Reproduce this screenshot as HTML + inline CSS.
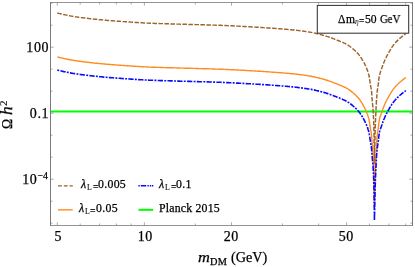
<!DOCTYPE html><html><head><meta charset="utf-8"><title>plot</title><style>
html,body{margin:0;padding:0;background:#fff}
#w{position:relative;width:415px;height:267px;overflow:hidden;background:#fff;font-family:"Liberation Serif",serif;color:#000;-webkit-text-stroke:0.25px #000}
.t{position:absolute;white-space:nowrap;line-height:1;will-change:transform}
.yl{font-size:14px;text-align:right;width:49.3px;left:0;letter-spacing:0.7px}
.xl{font-size:14px;text-align:center;width:40px;letter-spacing:0.65px;text-indent:0.65px}
.lg{font-size:11.8px}
sub{font-size:0.7em;vertical-align:baseline;position:relative;top:0.22em;line-height:0}
sup{font-size:0.72em;vertical-align:baseline;position:relative;top:-0.5em;line-height:0}
i{font-style:italic}
</style></head><body><div id="w"><svg width="415" height="267" viewBox="0 0 415 267" style="position:absolute;left:0;top:0"><defs><clipPath id="c"><rect x="50.5" y="2.5" width="362.0" height="223.0"/></clipPath></defs><g clip-path="url(#c)" fill="none" stroke-linejoin="round"><line x1="50.5" x2="412.5" y1="111.55" y2="111.55" stroke="#00ff00" stroke-width="2.1"/><path d="M57.3,13.0 L58.1,13.2 L58.9,13.4 L59.8,13.6 L60.6,13.8 L61.4,14.0 L62.2,14.2 L63.0,14.4 L63.9,14.6 L64.7,14.7 L65.5,14.9 L66.3,15.1 L67.2,15.3 L68.0,15.4 L68.8,15.6 L69.6,15.8 L70.5,15.9 L71.3,16.1 L72.1,16.2 L72.9,16.4 L73.8,16.5 L74.6,16.6 L75.4,16.8 L76.3,16.9 L77.1,17.0 L77.9,17.1 L78.8,17.3 L79.6,17.4 L80.4,17.5 L81.3,17.6 L82.1,17.7 L82.9,17.8 L83.8,17.9 L84.6,18.0 L85.4,18.1 L86.3,18.2 L87.1,18.3 L88.0,18.4 L88.8,18.5 L89.6,18.6 L90.5,18.7 L91.3,18.8 L92.1,18.9 L93.0,19.0 L93.8,19.1 L94.7,19.2 L95.5,19.3 L96.3,19.3 L97.2,19.4 L98.0,19.5 L98.8,19.6 L99.7,19.7 L100.5,19.7 L101.4,19.8 L102.2,19.9 L103.0,20.0 L103.9,20.1 L104.7,20.1 L105.6,20.2 L106.4,20.3 L107.2,20.4 L108.1,20.4 L108.9,20.5 L109.7,20.6 L110.6,20.6 L111.4,20.7 L112.3,20.8 L113.1,20.8 L113.9,20.9 L114.8,21.0 L115.6,21.0 L116.5,21.1 L117.3,21.2 L118.1,21.2 L119.0,21.3 L119.8,21.3 L120.7,21.4 L121.5,21.5 L122.3,21.5 L123.2,21.6 L124.0,21.6 L124.9,21.7 L125.7,21.7 L126.5,21.8 L127.4,21.9 L128.2,21.9 L129.1,22.0 L129.9,22.0 L130.7,22.1 L131.6,22.1 L132.4,22.2 L133.3,22.3 L134.1,22.3 L134.9,22.4 L135.8,22.4 L136.6,22.5 L137.5,22.5 L138.3,22.6 L139.1,22.6 L140.0,22.7 L140.8,22.7 L141.7,22.8 L142.5,22.8 L143.3,22.9 L144.2,22.9 L145.0,23.0 L145.9,23.0 L146.7,23.1 L147.6,23.1 L148.4,23.1 L149.2,23.2 L150.1,23.2 L150.9,23.2 L151.8,23.3 L152.6,23.3 L153.4,23.3 L154.3,23.4 L155.1,23.4 L156.0,23.4 L156.8,23.5 L157.6,23.5 L158.5,23.5 L159.3,23.5 L160.2,23.6 L161.0,23.6 L161.9,23.6 L162.7,23.6 L163.5,23.7 L164.4,23.7 L165.2,23.7 L166.1,23.7 L166.9,23.8 L167.7,23.8 L168.6,23.8 L169.4,23.8 L170.3,23.9 L171.1,23.9 L172.0,23.9 L172.8,23.9 L173.6,24.0 L174.5,24.0 L175.3,24.0 L176.2,24.0 L177.0,24.1 L177.8,24.1 L178.7,24.1 L179.5,24.1 L180.4,24.2 L181.2,24.2 L182.1,24.2 L182.9,24.2 L183.7,24.2 L184.6,24.3 L185.4,24.3 L186.3,24.3 L187.1,24.3 L188.0,24.4 L188.8,24.4 L189.6,24.4 L190.5,24.4 L191.3,24.5 L192.2,24.5 L193.0,24.5 L193.8,24.5 L194.7,24.5 L195.5,24.6 L196.4,24.6 L197.2,24.6 L198.1,24.6 L198.9,24.7 L199.7,24.7 L200.6,24.7 L201.4,24.7 L202.3,24.8 L203.1,24.8 L203.9,24.8 L204.8,24.8 L205.6,24.9 L206.5,24.9 L207.3,24.9 L208.2,24.9 L209.0,25.0 L209.8,25.0 L210.7,25.0 L211.5,25.0 L212.4,25.1 L213.2,25.1 L214.0,25.1 L214.9,25.1 L215.7,25.2 L216.6,25.2 L217.4,25.2 L218.3,25.3 L219.1,25.3 L219.9,25.3 L220.8,25.3 L221.6,25.4 L222.5,25.4 L223.3,25.4 L224.1,25.5 L225.0,25.5 L225.8,25.5 L226.7,25.6 L227.5,25.6 L228.3,25.6 L229.2,25.7 L230.0,25.7 L230.9,25.8 L231.7,25.8 L232.6,25.8 L233.4,25.9 L234.2,25.9 L235.1,26.0 L235.9,26.0 L236.8,26.1 L237.6,26.1 L238.4,26.1 L239.3,26.2 L240.1,26.2 L241.0,26.3 L241.8,26.3 L242.6,26.4 L243.5,26.4 L244.3,26.5 L245.2,26.5 L246.0,26.6 L246.8,26.6 L247.7,26.7 L248.5,26.7 L249.4,26.8 L250.2,26.8 L251.0,26.9 L251.9,26.9 L252.7,27.0 L253.6,27.0 L254.4,27.1 L255.3,27.1 L256.1,27.2 L256.9,27.2 L257.8,27.3 L258.6,27.3 L259.5,27.4 L260.3,27.4 L261.1,27.5 L262.0,27.5 L262.8,27.6 L263.7,27.6 L264.5,27.7 L265.3,27.7 L266.2,27.8 L267.0,27.9 L267.9,27.9 L268.7,28.0 L269.5,28.0 L270.4,28.1 L271.2,28.2 L272.1,28.2 L272.9,28.3 L273.7,28.3 L274.6,28.4 L275.4,28.5 L276.3,28.5 L277.1,28.6 L277.9,28.6 L278.8,28.7 L279.6,28.8 L280.5,28.8 L281.3,28.9 L282.1,29.0 L283.0,29.0 L283.8,29.1 L284.7,29.2 L285.5,29.2 L286.3,29.3 L287.2,29.4 L288.0,29.5 L288.8,29.5 L289.7,29.6 L290.5,29.7 L291.4,29.8 L292.2,29.9 L293.0,29.9 L293.9,30.0 L294.7,30.1 L295.5,30.2 L296.4,30.3 L297.2,30.4 L298.1,30.5 L298.9,30.6 L299.7,30.7 L300.6,30.8 L301.4,30.9 L302.2,31.0 L303.1,31.1 L303.9,31.2 L304.7,31.4 L305.6,31.5 L306.4,31.6 L307.2,31.7 L308.1,31.9 L308.9,32.0 L309.7,32.1 L310.6,32.3 L311.4,32.4 L312.2,32.6 L313.0,32.8 L313.9,32.9 L314.7,33.1 L315.5,33.3 L316.3,33.5 L317.2,33.7 L318.0,33.9 L318.8,34.1 L319.6,34.3 L320.4,34.5 L321.2,34.7 L322.1,34.9 L322.9,35.2 L323.7,35.4 L324.5,35.6 L325.3,35.8 L326.1,36.1 L326.9,36.4 L327.7,36.6 L328.5,36.9 L329.3,37.2 L330.1,37.4 L330.9,37.7 L331.7,38.0 L332.5,38.3 L333.2,38.6 L334.0,38.9 L334.8,39.2 L335.6,39.5 L336.4,39.8 L337.2,40.2 L338.0,40.5 L338.7,40.8 L339.5,41.1 L340.3,41.4 L341.1,41.7 L341.9,42.0 L342.7,42.4 L343.4,42.7 L344.2,43.1 L344.9,43.4 L345.7,43.8 L346.4,44.2 L347.2,44.6 L347.9,45.1 L348.6,45.5 L349.3,46.0 L350.0,46.5 L350.6,47.0 L351.3,47.5 L352.0,48.0 L352.6,48.6 L353.3,49.1 L353.9,49.7 L354.5,50.2 L355.2,50.8 L355.8,51.4 L356.4,52.0 L357.0,52.6 L357.5,53.2 L358.1,53.8 L358.6,54.4 L359.2,55.1 L359.7,55.8 L360.2,56.5 L360.6,57.2 L361.1,57.8 L361.6,58.6 L362.0,59.3 L362.5,60.0 L362.9,60.7 L363.3,61.4 L363.7,62.2 L364.1,62.9 L364.5,63.7 L364.9,64.4 L365.2,65.2 L365.6,66.0 L365.9,66.7 L366.3,67.5 L366.6,68.3 L366.9,69.1 L367.2,69.9 L367.5,70.6 L367.8,71.4 L368.0,72.2 L368.3,73.1 L368.5,73.9 L368.8,74.7 L369.0,75.5 L369.1,76.3 L369.3,77.1 L369.4,77.9 L369.6,78.8 L369.7,79.6 L369.8,80.4 L369.9,81.3 L370.0,82.1 L370.2,83.0 L370.3,83.8 L370.4,84.6 L370.5,85.5 L370.7,86.3 L370.9,87.1 L371.0,87.9 L371.2,88.8 L371.3,89.6 L371.4,90.4 L371.5,91.3 L371.6,92.1 L371.7,92.9 L371.7,93.8 L371.8,94.6 L371.9,95.5 L371.9,96.3 L372.0,97.1 L372.0,98.0 L372.1,98.8 L372.2,99.7 L372.2,100.5 L372.3,101.3 L372.4,102.2 L372.5,103.0 L372.5,103.9 L372.6,104.7 L372.7,105.5 L372.8,106.4 L372.9,107.2 L372.9,108.1 L373.0,108.9 L373.1,109.7 L373.1,110.6 L373.2,111.4 L373.2,112.3 L373.3,113.1 L373.3,113.9 L373.4,114.8 L373.4,115.6 L373.4,116.5 L373.5,117.3 L373.5,118.1 L373.6,119.0 L373.6,119.8 L373.6,120.7 L373.7,121.5 L373.7,122.3 L373.7,123.2 L373.7,124.0 L373.8,124.9 L373.8,125.7 L373.8,126.6 L373.8,127.4 L373.9,128.2 L373.9,129.1 L373.9,129.9 L373.9,130.8 L373.9,131.6 L374.0,132.4 L374.0,133.3 L374.0,134.1 L374.0,135.0 L374.0,135.8 L374.0,136.7 L374.1,137.5 L374.1,138.3 L374.1,139.2 L374.1,140.0 L374.1,140.9 L374.1,141.7 L374.1,142.6 L374.2,143.4 L374.2,144.2 L374.2,145.1 L374.2,145.9 L374.2,146.8 L374.2,147.6 L374.2,148.4 L374.2,149.3 L374.3,150.1 L374.3,151.0 L374.3,151.8 L374.3,152.7 L374.3,153.5 L374.3,154.3 L374.3,155.2 L374.3,156.0 L374.3,156.9 L374.3,157.7 L374.4,158.5 L374.4,159.4 L374.4,160.2 L374.4,161.1 L374.4,161.9 L374.4,162.8 L374.4,163.6 L374.4,163.1 L374.4,162.7 L374.4,162.2 L374.4,161.7 L374.5,161.3 L374.5,160.8 L374.5,160.3 L374.5,159.9 L374.5,159.4 L374.5,159.0 L374.5,158.5 L374.5,158.0 L374.5,157.6 L374.5,157.1 L374.6,156.6 L374.6,156.2 L374.6,155.7 L374.6,155.2 L374.6,154.8 L374.6,154.3 L374.6,153.8 L374.6,153.4 L374.6,152.9 L374.7,152.4 L374.7,152.0 L374.7,151.5 L374.7,151.1 L374.7,150.6 L374.7,150.1 L374.7,149.7 L374.7,149.2 L374.7,148.7 L374.7,148.3 L374.8,147.8 L374.8,147.3 L374.8,146.9 L374.8,146.4 L374.8,145.9 L374.8,145.5 L374.8,145.0 L374.8,144.6 L374.8,144.1 L374.9,143.6 L374.9,143.2 L374.9,142.7 L374.9,142.2 L374.9,141.8 L374.9,141.3 L374.9,140.8 L374.9,140.4 L374.9,139.9 L375.0,139.4 L375.0,139.0 L375.0,138.5 L375.0,138.0 L375.0,137.6 L375.0,137.1 L375.0,136.7 L375.0,136.2 L375.0,135.7 L375.1,135.3 L375.1,134.8 L375.1,134.3 L375.1,133.9 L375.1,133.4 L375.1,132.9 L375.1,132.5 L375.1,132.0 L375.1,131.5 L375.2,131.1 L375.2,130.6 L375.2,130.2 L375.2,129.7 L375.2,129.2 L375.2,128.8 L375.2,128.3 L375.2,127.8 L375.3,127.4 L375.3,126.9 L375.3,126.4 L375.3,126.0 L375.3,125.5 L375.3,125.0 L375.4,124.6 L375.4,124.1 L375.4,123.6 L375.4,123.2 L375.4,122.7 L375.4,122.3 L375.5,121.8 L375.5,121.3 L375.5,120.9 L375.5,120.4 L375.5,119.9 L375.5,119.5 L375.6,119.0 L375.6,118.5 L375.6,118.1 L375.6,117.6 L375.6,117.1 L375.7,116.7 L375.7,116.2 L375.7,115.8 L375.7,115.3 L375.8,114.8 L375.8,114.4 L375.8,113.9 L375.8,113.4 L375.8,113.0 L375.9,112.5 L375.9,112.0 L375.9,111.6 L375.9,111.1 L375.9,110.6 L376.0,110.2 L376.0,109.7 L376.0,109.3 L376.0,108.8 L376.1,108.3 L376.1,107.9 L376.1,107.4 L376.1,106.9 L376.1,106.5 L376.2,106.0 L376.2,105.5 L376.2,105.1 L376.2,104.6 L376.3,104.1 L376.3,103.7 L376.3,103.2 L376.3,102.8 L376.4,102.3 L376.4,101.8 L376.4,101.4 L376.4,100.9 L376.5,100.4 L376.5,100.0 L376.5,99.5 L376.6,99.0 L376.6,98.6 L376.6,98.1 L376.7,97.7 L376.7,97.2 L376.8,96.7 L376.8,96.3 L376.8,95.8 L376.9,95.3 L376.9,94.9 L377.0,94.4 L377.0,94.0 L377.1,93.5 L377.1,93.0 L377.1,92.6 L377.2,92.1 L377.2,91.6 L377.3,91.2 L377.3,90.7 L377.4,90.3 L377.5,89.8 L377.5,89.3 L377.6,88.9 L377.6,88.4 L377.7,88.0 L377.8,87.5 L377.9,87.0 L377.9,86.6 L378.0,86.1 L378.1,85.7 L378.1,85.2 L378.2,84.7 L378.2,84.3 L378.3,83.8 L378.4,83.4 L378.4,82.9 L378.5,82.4 L378.5,82.0 L378.6,81.5 L378.6,81.0 L378.7,80.6 L378.7,80.1 L378.8,79.6 L378.8,79.2 L378.9,78.7 L379.0,78.3 L379.0,77.8 L379.1,77.3 L379.2,76.9 L379.2,76.4 L379.3,76.0 L379.4,75.5 L379.5,75.1 L379.6,74.6 L379.7,74.2 L379.9,73.7 L380.0,73.3 L380.1,72.9 L380.3,72.4 L380.4,72.0 L380.6,71.5 L380.7,71.1 L380.9,70.6 L381.1,70.2 L381.2,69.8 L381.4,69.3 L381.5,68.9 L381.7,68.4 L381.9,68.0 L382.0,67.6 L382.2,67.1 L382.3,66.7 L382.5,66.3 L382.6,65.8 L382.8,65.4 L382.9,64.9 L383.1,64.5 L383.3,64.1 L383.4,63.6 L383.6,63.2 L383.7,62.8 L383.9,62.3 L384.1,61.9 L384.3,61.5 L384.5,61.0 L384.6,60.6 L384.8,60.2 L385.0,59.8 L385.2,59.4 L385.4,58.9 L385.6,58.5 L385.8,58.1 L386.0,57.7 L386.2,57.3 L386.4,56.8 L386.7,56.4 L386.9,56.0 L387.1,55.6 L387.3,55.2 L387.5,54.8 L387.8,54.4 L388.0,54.0 L388.2,53.6 L388.4,53.2 L388.7,52.8 L388.9,52.3 L389.1,51.9 L389.3,51.5 L389.6,51.1 L389.8,50.7 L390.0,50.3 L390.3,49.9 L390.5,49.5 L390.8,49.1 L391.0,48.7 L391.2,48.3 L391.5,47.9 L391.7,47.5 L392.0,47.1 L392.3,46.8 L392.5,46.4 L392.8,46.0 L393.1,45.6 L393.3,45.3 L393.6,44.9 L393.9,44.5 L394.2,44.2 L394.5,43.8 L394.8,43.5 L395.1,43.1 L395.4,42.8 L395.7,42.4 L396.0,42.1 L396.3,41.7 L396.7,41.4 L397.0,41.1 L397.3,40.7 L397.7,40.4 L398.0,40.1 L398.3,39.8 L398.7,39.4 L399.0,39.1 L399.4,38.8 L399.7,38.5 L400.0,38.2 L400.4,37.9 L400.7,37.6 L401.1,37.3 L401.4,37.0 L401.8,36.7 L402.2,36.4 L402.5,36.1 L402.9,35.8 L403.3,35.5 L403.6,35.2 L404.0,35.0 L404.4,34.7 L404.8,34.4 L405.1,34.1 L405.5,33.9 L405.9,33.6" stroke="#9c632a" stroke-width="1.45" stroke-dasharray="4.5,1.5"/><path d="M57.3,56.9 L58.1,57.1 L58.9,57.3 L59.8,57.5 L60.6,57.7 L61.4,57.9 L62.2,58.1 L63.0,58.3 L63.9,58.5 L64.7,58.6 L65.5,58.8 L66.3,59.0 L67.2,59.2 L68.0,59.3 L68.8,59.5 L69.6,59.7 L70.5,59.8 L71.3,60.0 L72.1,60.1 L72.9,60.3 L73.8,60.4 L74.6,60.5 L75.4,60.7 L76.3,60.8 L77.1,60.9 L77.9,61.0 L78.8,61.2 L79.6,61.3 L80.4,61.4 L81.3,61.5 L82.1,61.6 L82.9,61.7 L83.8,61.8 L84.6,61.9 L85.4,62.0 L86.3,62.1 L87.1,62.2 L88.0,62.3 L88.8,62.4 L89.6,62.5 L90.5,62.6 L91.3,62.7 L92.1,62.8 L93.0,62.9 L93.8,63.0 L94.7,63.1 L95.5,63.2 L96.3,63.2 L97.2,63.3 L98.0,63.4 L98.8,63.5 L99.7,63.6 L100.5,63.6 L101.4,63.7 L102.2,63.8 L103.0,63.9 L103.9,64.0 L104.7,64.0 L105.6,64.1 L106.4,64.2 L107.2,64.3 L108.1,64.3 L108.9,64.4 L109.7,64.5 L110.6,64.5 L111.4,64.6 L112.3,64.7 L113.1,64.7 L113.9,64.8 L114.8,64.9 L115.6,64.9 L116.5,65.0 L117.3,65.1 L118.1,65.1 L119.0,65.2 L119.8,65.2 L120.7,65.3 L121.5,65.4 L122.3,65.4 L123.2,65.5 L124.0,65.5 L124.9,65.6 L125.7,65.6 L126.5,65.7 L127.4,65.8 L128.2,65.8 L129.1,65.9 L129.9,65.9 L130.7,66.0 L131.6,66.0 L132.4,66.1 L133.3,66.2 L134.1,66.2 L134.9,66.3 L135.8,66.3 L136.6,66.4 L137.5,66.4 L138.3,66.5 L139.1,66.5 L140.0,66.6 L140.8,66.6 L141.7,66.7 L142.5,66.7 L143.3,66.8 L144.2,66.8 L145.0,66.9 L145.9,66.9 L146.7,67.0 L147.6,67.0 L148.4,67.0 L149.2,67.1 L150.1,67.1 L150.9,67.1 L151.8,67.2 L152.6,67.2 L153.4,67.2 L154.3,67.3 L155.1,67.3 L156.0,67.3 L156.8,67.4 L157.6,67.4 L158.5,67.4 L159.3,67.4 L160.2,67.5 L161.0,67.5 L161.9,67.5 L162.7,67.5 L163.5,67.6 L164.4,67.6 L165.2,67.6 L166.1,67.6 L166.9,67.7 L167.7,67.7 L168.6,67.7 L169.4,67.7 L170.3,67.8 L171.1,67.8 L172.0,67.8 L172.8,67.8 L173.6,67.9 L174.5,67.9 L175.3,67.9 L176.2,67.9 L177.0,68.0 L177.8,68.0 L178.7,68.0 L179.5,68.0 L180.4,68.1 L181.2,68.1 L182.1,68.1 L182.9,68.1 L183.7,68.1 L184.6,68.2 L185.4,68.2 L186.3,68.2 L187.1,68.2 L188.0,68.3 L188.8,68.3 L189.6,68.3 L190.5,68.3 L191.3,68.4 L192.2,68.4 L193.0,68.4 L193.8,68.4 L194.7,68.4 L195.5,68.5 L196.4,68.5 L197.2,68.5 L198.1,68.5 L198.9,68.6 L199.7,68.6 L200.6,68.6 L201.4,68.6 L202.3,68.7 L203.1,68.7 L203.9,68.7 L204.8,68.7 L205.6,68.8 L206.5,68.8 L207.3,68.8 L208.2,68.8 L209.0,68.9 L209.8,68.9 L210.7,68.9 L211.5,68.9 L212.4,69.0 L213.2,69.0 L214.0,69.0 L214.9,69.0 L215.7,69.1 L216.6,69.1 L217.4,69.1 L218.3,69.2 L219.1,69.2 L219.9,69.2 L220.8,69.2 L221.6,69.3 L222.5,69.3 L223.3,69.3 L224.1,69.4 L225.0,69.4 L225.8,69.4 L226.7,69.5 L227.5,69.5 L228.3,69.5 L229.2,69.6 L230.0,69.6 L230.9,69.7 L231.7,69.7 L232.6,69.7 L233.4,69.8 L234.2,69.8 L235.1,69.9 L235.9,69.9 L236.8,70.0 L237.6,70.0 L238.4,70.0 L239.3,70.1 L240.1,70.1 L241.0,70.2 L241.8,70.2 L242.6,70.3 L243.5,70.3 L244.3,70.4 L245.2,70.4 L246.0,70.5 L246.8,70.5 L247.7,70.6 L248.5,70.6 L249.4,70.7 L250.2,70.7 L251.0,70.8 L251.9,70.8 L252.7,70.9 L253.6,70.9 L254.4,71.0 L255.3,71.0 L256.1,71.1 L256.9,71.1 L257.8,71.2 L258.6,71.2 L259.5,71.3 L260.3,71.3 L261.1,71.4 L262.0,71.4 L262.8,71.5 L263.7,71.5 L264.5,71.6 L265.3,71.6 L266.2,71.7 L267.0,71.8 L267.9,71.8 L268.7,71.9 L269.5,71.9 L270.4,72.0 L271.2,72.1 L272.1,72.1 L272.9,72.2 L273.7,72.2 L274.6,72.3 L275.4,72.4 L276.3,72.4 L277.1,72.5 L277.9,72.5 L278.8,72.6 L279.6,72.7 L280.5,72.7 L281.3,72.8 L282.1,72.9 L283.0,72.9 L283.8,73.0 L284.7,73.1 L285.5,73.1 L286.3,73.2 L287.2,73.3 L288.0,73.4 L288.8,73.4 L289.7,73.5 L290.5,73.6 L291.4,73.7 L292.2,73.8 L293.0,73.8 L293.9,73.9 L294.7,74.0 L295.5,74.1 L296.4,74.2 L297.2,74.3 L298.1,74.4 L298.9,74.5 L299.7,74.6 L300.6,74.7 L301.4,74.8 L302.2,74.9 L303.1,75.0 L303.9,75.1 L304.7,75.3 L305.6,75.4 L306.4,75.5 L307.2,75.6 L308.1,75.8 L308.9,75.9 L309.7,76.0 L310.6,76.2 L311.4,76.3 L312.2,76.5 L313.0,76.7 L313.9,76.8 L314.7,77.0 L315.5,77.2 L316.3,77.4 L317.2,77.6 L318.0,77.8 L318.8,78.0 L319.6,78.2 L320.4,78.4 L321.2,78.6 L322.1,78.8 L322.9,79.1 L323.7,79.3 L324.5,79.5 L325.3,79.7 L326.1,80.0 L326.9,80.3 L327.7,80.5 L328.5,80.8 L329.3,81.1 L330.1,81.3 L330.9,81.6 L331.7,81.9 L332.5,82.2 L333.2,82.5 L334.0,82.8 L334.8,83.1 L335.6,83.4 L336.4,83.7 L337.2,84.1 L338.0,84.4 L338.7,84.7 L339.5,85.0 L340.3,85.3 L341.1,85.6 L341.9,85.9 L342.7,86.3 L343.4,86.6 L344.2,87.0 L344.9,87.3 L345.7,87.7 L346.4,88.1 L347.2,88.5 L347.9,89.0 L348.6,89.4 L349.3,89.9 L350.0,90.4 L350.6,90.9 L351.3,91.4 L352.0,91.9 L352.6,92.5 L353.3,93.0 L353.9,93.6 L354.5,94.1 L355.2,94.7 L355.8,95.3 L356.4,95.9 L357.0,96.5 L357.5,97.1 L358.1,97.7 L358.6,98.3 L359.2,99.0 L359.7,99.7 L360.2,100.4 L360.6,101.1 L361.1,101.7 L361.6,102.5 L362.0,103.2 L362.5,103.9 L362.9,104.6 L363.3,105.3 L363.7,106.1 L364.1,106.8 L364.5,107.6 L364.9,108.3 L365.2,109.1 L365.6,109.9 L365.9,110.6 L366.3,111.4 L366.6,112.2 L366.9,113.0 L367.2,113.8 L367.5,114.5 L367.8,115.3 L368.0,116.1 L368.3,117.0 L368.5,117.8 L368.8,118.6 L369.0,119.4 L369.1,120.2 L369.3,121.0 L369.4,121.8 L369.6,122.7 L369.7,123.5 L369.8,124.3 L369.9,125.2 L370.0,126.0 L370.2,126.9 L370.3,127.7 L370.4,128.5 L370.5,129.4 L370.7,130.2 L370.9,131.0 L371.0,131.8 L371.2,132.7 L371.3,133.5 L371.4,134.3 L371.5,135.2 L371.6,136.0 L371.7,136.8 L371.7,137.7 L371.8,138.5 L371.9,139.4 L371.9,140.2 L372.0,141.0 L372.0,141.9 L372.1,142.7 L372.2,143.6 L372.2,144.4 L372.3,145.2 L372.4,146.1 L372.5,146.9 L372.5,147.8 L372.6,148.6 L372.7,149.4 L372.8,150.3 L372.9,151.1 L372.9,152.0 L373.0,152.8 L373.1,153.6 L373.1,154.5 L373.2,155.3 L373.2,156.2 L373.3,157.0 L373.3,157.8 L373.4,158.7 L373.4,159.5 L373.4,160.4 L373.5,161.2 L373.5,162.0 L373.6,162.9 L373.6,163.7 L373.6,164.6 L373.7,165.4 L373.7,166.2 L373.7,167.1 L373.7,167.9 L373.8,168.8 L373.8,169.6 L373.8,170.5 L373.8,171.3 L373.9,172.1 L373.9,173.0 L373.9,173.8 L373.9,174.7 L373.9,175.5 L374.0,176.3 L374.0,177.2 L374.0,178.0 L374.0,178.9 L374.0,179.7 L374.0,180.6 L374.1,181.4 L374.1,182.2 L374.1,183.1 L374.1,183.9 L374.1,184.8 L374.1,185.6 L374.1,186.5 L374.2,187.3 L374.2,188.1 L374.2,189.0 L374.2,189.8 L374.2,190.7 L374.2,191.5 L374.2,192.3 L374.2,193.2 L374.3,194.0 L374.3,194.9 L374.3,195.7 L374.3,196.6 L374.3,197.4 L374.3,198.2 L374.3,199.1 L374.3,199.9 L374.3,200.8 L374.3,201.6 L374.4,202.4 L374.4,203.3 L374.4,204.1 L374.4,205.0 L374.4,205.8 L374.4,206.7 L374.4,207.5 L374.4,207.0 L374.4,206.6 L374.4,206.1 L374.4,205.6 L374.5,205.2 L374.5,204.7 L374.5,204.2 L374.5,203.8 L374.5,203.3 L374.5,202.9 L374.5,202.4 L374.5,201.9 L374.5,201.5 L374.5,201.0 L374.6,200.5 L374.6,200.1 L374.6,199.6 L374.6,199.1 L374.6,198.7 L374.6,198.2 L374.6,197.7 L374.6,197.3 L374.6,196.8 L374.7,196.3 L374.7,195.9 L374.7,195.4 L374.7,195.0 L374.7,194.5 L374.7,194.0 L374.7,193.6 L374.7,193.1 L374.7,192.6 L374.7,192.2 L374.8,191.7 L374.8,191.2 L374.8,190.8 L374.8,190.3 L374.8,189.8 L374.8,189.4 L374.8,188.9 L374.8,188.5 L374.8,188.0 L374.9,187.5 L374.9,187.1 L374.9,186.6 L374.9,186.1 L374.9,185.7 L374.9,185.2 L374.9,184.7 L374.9,184.3 L374.9,183.8 L375.0,183.3 L375.0,182.9 L375.0,182.4 L375.0,181.9 L375.0,181.5 L375.0,181.0 L375.0,180.6 L375.0,180.1 L375.0,179.6 L375.1,179.2 L375.1,178.7 L375.1,178.2 L375.1,177.8 L375.1,177.3 L375.1,176.8 L375.1,176.4 L375.1,175.9 L375.1,175.4 L375.2,175.0 L375.2,174.5 L375.2,174.1 L375.2,173.6 L375.2,173.1 L375.2,172.7 L375.2,172.2 L375.2,171.7 L375.3,171.3 L375.3,170.8 L375.3,170.3 L375.3,169.9 L375.3,169.4 L375.3,168.9 L375.4,168.5 L375.4,168.0 L375.4,167.5 L375.4,167.1 L375.4,166.6 L375.4,166.2 L375.5,165.7 L375.5,165.2 L375.5,164.8 L375.5,164.3 L375.5,163.8 L375.5,163.4 L375.6,162.9 L375.6,162.4 L375.6,162.0 L375.6,161.5 L375.6,161.0 L375.7,160.6 L375.7,160.1 L375.7,159.7 L375.7,159.2 L375.8,158.7 L375.8,158.3 L375.8,157.8 L375.8,157.3 L375.8,156.9 L375.9,156.4 L375.9,155.9 L375.9,155.5 L375.9,155.0 L375.9,154.5 L376.0,154.1 L376.0,153.6 L376.0,153.2 L376.0,152.7 L376.1,152.2 L376.1,151.8 L376.1,151.3 L376.1,150.8 L376.1,150.4 L376.2,149.9 L376.2,149.4 L376.2,149.0 L376.2,148.5 L376.3,148.0 L376.3,147.6 L376.3,147.1 L376.3,146.7 L376.4,146.2 L376.4,145.7 L376.4,145.3 L376.4,144.8 L376.5,144.3 L376.5,143.9 L376.5,143.4 L376.6,142.9 L376.6,142.5 L376.6,142.0 L376.7,141.6 L376.7,141.1 L376.8,140.6 L376.8,140.2 L376.8,139.7 L376.9,139.2 L376.9,138.8 L377.0,138.3 L377.0,137.9 L377.1,137.4 L377.1,136.9 L377.1,136.5 L377.2,136.0 L377.2,135.5 L377.3,135.1 L377.3,134.6 L377.4,134.2 L377.5,133.7 L377.5,133.2 L377.6,132.8 L377.6,132.3 L377.7,131.9 L377.8,131.4 L377.9,130.9 L377.9,130.5 L378.0,130.0 L378.1,129.6 L378.1,129.1 L378.2,128.6 L378.2,128.2 L378.3,127.7 L378.4,127.3 L378.4,126.8 L378.5,126.3 L378.5,125.9 L378.6,125.4 L378.6,124.9 L378.7,124.5 L378.7,124.0 L378.8,123.5 L378.8,123.1 L378.9,122.6 L379.0,122.2 L379.0,121.7 L379.1,121.2 L379.2,120.8 L379.2,120.3 L379.3,119.9 L379.4,119.4 L379.5,119.0 L379.6,118.5 L379.7,118.1 L379.9,117.6 L380.0,117.2 L380.1,116.8 L380.3,116.3 L380.4,115.9 L380.6,115.4 L380.7,115.0 L380.9,114.5 L381.1,114.1 L381.2,113.7 L381.4,113.2 L381.5,112.8 L381.7,112.3 L381.9,111.9 L382.0,111.5 L382.2,111.0 L382.3,110.6 L382.5,110.2 L382.6,109.7 L382.8,109.3 L382.9,108.8 L383.1,108.4 L383.3,108.0 L383.4,107.5 L383.6,107.1 L383.7,106.7 L383.9,106.2 L384.1,105.8 L384.3,105.4 L384.5,104.9 L384.6,104.5 L384.8,104.1 L385.0,103.7 L385.2,103.3 L385.4,102.8 L385.6,102.4 L385.8,102.0 L386.0,101.6 L386.2,101.2 L386.4,100.7 L386.7,100.3 L386.9,99.9 L387.1,99.5 L387.3,99.1 L387.5,98.7 L387.8,98.3 L388.0,97.9 L388.2,97.5 L388.4,97.1 L388.7,96.7 L388.9,96.2 L389.1,95.8 L389.3,95.4 L389.6,95.0 L389.8,94.6 L390.0,94.2 L390.3,93.8 L390.5,93.4 L390.8,93.0 L391.0,92.6 L391.2,92.2 L391.5,91.8 L391.7,91.4 L392.0,91.0 L392.3,90.7 L392.5,90.3 L392.8,89.9 L393.1,89.5 L393.3,89.2 L393.6,88.8 L393.9,88.4 L394.2,88.1 L394.5,87.7 L394.8,87.4 L395.1,87.0 L395.4,86.7 L395.7,86.3 L396.0,86.0 L396.3,85.6 L396.7,85.3 L397.0,85.0 L397.3,84.6 L397.7,84.3 L398.0,84.0 L398.3,83.7 L398.7,83.3 L399.0,83.0 L399.4,82.7 L399.7,82.4 L400.0,82.1 L400.4,81.8 L400.7,81.5 L401.1,81.2 L401.4,80.9 L401.8,80.6 L402.2,80.3 L402.5,80.0 L402.9,79.7 L403.3,79.4 L403.6,79.1 L404.0,78.9 L404.4,78.6 L404.8,78.3 L405.1,78.0 L405.5,77.8 L405.9,77.5" stroke="#ff8c1f" stroke-width="1.4"/><path d="M57.3,70.0 L58.1,70.2 L58.9,70.4 L59.8,70.6 L60.6,70.8 L61.4,71.0 L62.2,71.2 L63.0,71.4 L63.9,71.6 L64.7,71.7 L65.5,71.9 L66.3,72.1 L67.2,72.3 L68.0,72.4 L68.8,72.6 L69.6,72.8 L70.5,72.9 L71.3,73.1 L72.1,73.2 L72.9,73.4 L73.8,73.5 L74.6,73.6 L75.4,73.8 L76.3,73.9 L77.1,74.0 L77.9,74.1 L78.8,74.3 L79.6,74.4 L80.4,74.5 L81.3,74.6 L82.1,74.7 L82.9,74.8 L83.8,74.9 L84.6,75.0 L85.4,75.1 L86.3,75.2 L87.1,75.3 L88.0,75.4 L88.8,75.5 L89.6,75.6 L90.5,75.7 L91.3,75.8 L92.1,75.9 L93.0,76.0 L93.8,76.1 L94.7,76.2 L95.5,76.3 L96.3,76.3 L97.2,76.4 L98.0,76.5 L98.8,76.6 L99.7,76.7 L100.5,76.7 L101.4,76.8 L102.2,76.9 L103.0,77.0 L103.9,77.1 L104.7,77.1 L105.6,77.2 L106.4,77.3 L107.2,77.4 L108.1,77.4 L108.9,77.5 L109.7,77.6 L110.6,77.6 L111.4,77.7 L112.3,77.8 L113.1,77.8 L113.9,77.9 L114.8,78.0 L115.6,78.0 L116.5,78.1 L117.3,78.2 L118.1,78.2 L119.0,78.3 L119.8,78.3 L120.7,78.4 L121.5,78.5 L122.3,78.5 L123.2,78.6 L124.0,78.6 L124.9,78.7 L125.7,78.7 L126.5,78.8 L127.4,78.9 L128.2,78.9 L129.1,79.0 L129.9,79.0 L130.7,79.1 L131.6,79.1 L132.4,79.2 L133.3,79.3 L134.1,79.3 L134.9,79.4 L135.8,79.4 L136.6,79.5 L137.5,79.5 L138.3,79.6 L139.1,79.6 L140.0,79.7 L140.8,79.7 L141.7,79.8 L142.5,79.8 L143.3,79.9 L144.2,79.9 L145.0,80.0 L145.9,80.0 L146.7,80.1 L147.6,80.1 L148.4,80.1 L149.2,80.2 L150.1,80.2 L150.9,80.2 L151.8,80.3 L152.6,80.3 L153.4,80.3 L154.3,80.4 L155.1,80.4 L156.0,80.4 L156.8,80.5 L157.6,80.5 L158.5,80.5 L159.3,80.5 L160.2,80.6 L161.0,80.6 L161.9,80.6 L162.7,80.6 L163.5,80.7 L164.4,80.7 L165.2,80.7 L166.1,80.7 L166.9,80.8 L167.7,80.8 L168.6,80.8 L169.4,80.8 L170.3,80.9 L171.1,80.9 L172.0,80.9 L172.8,80.9 L173.6,81.0 L174.5,81.0 L175.3,81.0 L176.2,81.0 L177.0,81.1 L177.8,81.1 L178.7,81.1 L179.5,81.1 L180.4,81.2 L181.2,81.2 L182.1,81.2 L182.9,81.2 L183.7,81.2 L184.6,81.3 L185.4,81.3 L186.3,81.3 L187.1,81.3 L188.0,81.4 L188.8,81.4 L189.6,81.4 L190.5,81.4 L191.3,81.5 L192.2,81.5 L193.0,81.5 L193.8,81.5 L194.7,81.5 L195.5,81.6 L196.4,81.6 L197.2,81.6 L198.1,81.6 L198.9,81.7 L199.7,81.7 L200.6,81.7 L201.4,81.7 L202.3,81.8 L203.1,81.8 L203.9,81.8 L204.8,81.8 L205.6,81.9 L206.5,81.9 L207.3,81.9 L208.2,81.9 L209.0,82.0 L209.8,82.0 L210.7,82.0 L211.5,82.0 L212.4,82.1 L213.2,82.1 L214.0,82.1 L214.9,82.1 L215.7,82.2 L216.6,82.2 L217.4,82.2 L218.3,82.3 L219.1,82.3 L219.9,82.3 L220.8,82.3 L221.6,82.4 L222.5,82.4 L223.3,82.4 L224.1,82.5 L225.0,82.5 L225.8,82.5 L226.7,82.6 L227.5,82.6 L228.3,82.6 L229.2,82.7 L230.0,82.7 L230.9,82.8 L231.7,82.8 L232.6,82.8 L233.4,82.9 L234.2,82.9 L235.1,83.0 L235.9,83.0 L236.8,83.1 L237.6,83.1 L238.4,83.1 L239.3,83.2 L240.1,83.2 L241.0,83.3 L241.8,83.3 L242.6,83.4 L243.5,83.4 L244.3,83.5 L245.2,83.5 L246.0,83.6 L246.8,83.6 L247.7,83.7 L248.5,83.7 L249.4,83.8 L250.2,83.8 L251.0,83.9 L251.9,83.9 L252.7,84.0 L253.6,84.0 L254.4,84.1 L255.3,84.1 L256.1,84.2 L256.9,84.2 L257.8,84.3 L258.6,84.3 L259.5,84.4 L260.3,84.4 L261.1,84.5 L262.0,84.5 L262.8,84.6 L263.7,84.6 L264.5,84.7 L265.3,84.7 L266.2,84.8 L267.0,84.9 L267.9,84.9 L268.7,85.0 L269.5,85.0 L270.4,85.1 L271.2,85.2 L272.1,85.2 L272.9,85.3 L273.7,85.3 L274.6,85.4 L275.4,85.5 L276.3,85.5 L277.1,85.6 L277.9,85.6 L278.8,85.7 L279.6,85.8 L280.5,85.8 L281.3,85.9 L282.1,86.0 L283.0,86.0 L283.8,86.1 L284.7,86.2 L285.5,86.2 L286.3,86.3 L287.2,86.4 L288.0,86.5 L288.8,86.5 L289.7,86.6 L290.5,86.7 L291.4,86.8 L292.2,86.9 L293.0,86.9 L293.9,87.0 L294.7,87.1 L295.5,87.2 L296.4,87.3 L297.2,87.4 L298.1,87.5 L298.9,87.6 L299.7,87.7 L300.6,87.8 L301.4,87.9 L302.2,88.0 L303.1,88.1 L303.9,88.2 L304.7,88.4 L305.6,88.5 L306.4,88.6 L307.2,88.7 L308.1,88.9 L308.9,89.0 L309.7,89.1 L310.6,89.3 L311.4,89.4 L312.2,89.6 L313.0,89.8 L313.9,89.9 L314.7,90.1 L315.5,90.3 L316.3,90.5 L317.2,90.7 L318.0,90.9 L318.8,91.1 L319.6,91.3 L320.4,91.5 L321.2,91.7 L322.1,91.9 L322.9,92.2 L323.7,92.4 L324.5,92.6 L325.3,92.8 L326.1,93.1 L326.9,93.4 L327.7,93.6 L328.5,93.9 L329.3,94.2 L330.1,94.4 L330.9,94.7 L331.7,95.0 L332.5,95.3 L333.2,95.6 L334.0,95.9 L334.8,96.2 L335.6,96.5 L336.4,96.8 L337.2,97.2 L338.0,97.5 L338.7,97.8 L339.5,98.1 L340.3,98.4 L341.1,98.7 L341.9,99.0 L342.7,99.4 L343.4,99.7 L344.2,100.1 L344.9,100.4 L345.7,100.8 L346.4,101.2 L347.2,101.6 L347.9,102.1 L348.6,102.5 L349.3,103.0 L350.0,103.5 L350.6,104.0 L351.3,104.5 L352.0,105.0 L352.6,105.6 L353.3,106.1 L353.9,106.7 L354.5,107.2 L355.2,107.8 L355.8,108.4 L356.4,109.0 L357.0,109.6 L357.5,110.2 L358.1,110.8 L358.6,111.4 L359.2,112.1 L359.7,112.8 L360.2,113.5 L360.6,114.2 L361.1,114.8 L361.6,115.6 L362.0,116.3 L362.5,117.0 L362.9,117.7 L363.3,118.4 L363.7,119.2 L364.1,119.9 L364.5,120.7 L364.9,121.4 L365.2,122.2 L365.6,123.0 L365.9,123.7 L366.3,124.5 L366.6,125.3 L366.9,126.1 L367.2,126.9 L367.5,127.6 L367.8,128.4 L368.0,129.2 L368.3,130.1 L368.5,130.9 L368.8,131.7 L369.0,132.5 L369.1,133.3 L369.3,134.1 L369.4,134.9 L369.6,135.8 L369.7,136.6 L369.8,137.4 L369.9,138.3 L370.0,139.1 L370.2,140.0 L370.3,140.8 L370.4,141.6 L370.5,142.5 L370.7,143.3 L370.9,144.1 L371.0,144.9 L371.2,145.8 L371.3,146.6 L371.4,147.4 L371.5,148.3 L371.6,149.1 L371.7,149.9 L371.7,150.8 L371.8,151.6 L371.9,152.5 L371.9,153.3 L372.0,154.1 L372.0,155.0 L372.1,155.8 L372.2,156.7 L372.2,157.5 L372.3,158.3 L372.4,159.2 L372.5,160.0 L372.5,160.9 L372.6,161.7 L372.7,162.5 L372.8,163.4 L372.9,164.2 L372.9,165.1 L373.0,165.9 L373.1,166.7 L373.1,167.6 L373.2,168.4 L373.2,169.3 L373.3,170.1 L373.3,170.9 L373.4,171.8 L373.4,172.6 L373.4,173.5 L373.5,174.3 L373.5,175.1 L373.6,176.0 L373.6,176.8 L373.6,177.7 L373.7,178.5 L373.7,179.3 L373.7,180.2 L373.7,181.0 L373.8,181.9 L373.8,182.7 L373.8,183.6 L373.8,184.4 L373.9,185.2 L373.9,186.1 L373.9,186.9 L373.9,187.8 L373.9,188.6 L374.0,189.4 L374.0,190.3 L374.0,191.1 L374.0,192.0 L374.0,192.8 L374.0,193.7 L374.1,194.5 L374.1,195.3 L374.1,196.2 L374.1,197.0 L374.1,197.9 L374.1,198.7 L374.1,199.6 L374.2,200.4 L374.2,201.2 L374.2,202.1 L374.2,202.9 L374.2,203.8 L374.2,204.6 L374.2,205.4 L374.2,206.3 L374.3,207.1 L374.3,208.0 L374.3,208.8 L374.3,209.7 L374.3,210.5 L374.3,211.3 L374.3,212.2 L374.3,213.0 L374.3,213.9 L374.3,214.7 L374.4,215.5 L374.4,216.4 L374.4,217.2 L374.4,218.1 L374.4,218.9 L374.4,219.8 L374.4,220.6 L374.4,220.1 L374.4,219.7 L374.4,219.2 L374.4,218.7 L374.5,218.3 L374.5,217.8 L374.5,217.3 L374.5,216.9 L374.5,216.4 L374.5,216.0 L374.5,215.5 L374.5,215.0 L374.5,214.6 L374.5,214.1 L374.6,213.6 L374.6,213.2 L374.6,212.7 L374.6,212.2 L374.6,211.8 L374.6,211.3 L374.6,210.8 L374.6,210.4 L374.6,209.9 L374.7,209.4 L374.7,209.0 L374.7,208.5 L374.7,208.1 L374.7,207.6 L374.7,207.1 L374.7,206.7 L374.7,206.2 L374.7,205.7 L374.7,205.3 L374.8,204.8 L374.8,204.3 L374.8,203.9 L374.8,203.4 L374.8,202.9 L374.8,202.5 L374.8,202.0 L374.8,201.6 L374.8,201.1 L374.9,200.6 L374.9,200.2 L374.9,199.7 L374.9,199.2 L374.9,198.8 L374.9,198.3 L374.9,197.8 L374.9,197.4 L374.9,196.9 L375.0,196.4 L375.0,196.0 L375.0,195.5 L375.0,195.0 L375.0,194.6 L375.0,194.1 L375.0,193.7 L375.0,193.2 L375.0,192.7 L375.1,192.3 L375.1,191.8 L375.1,191.3 L375.1,190.9 L375.1,190.4 L375.1,189.9 L375.1,189.5 L375.1,189.0 L375.1,188.5 L375.2,188.1 L375.2,187.6 L375.2,187.2 L375.2,186.7 L375.2,186.2 L375.2,185.8 L375.2,185.3 L375.2,184.8 L375.3,184.4 L375.3,183.9 L375.3,183.4 L375.3,183.0 L375.3,182.5 L375.3,182.0 L375.4,181.6 L375.4,181.1 L375.4,180.6 L375.4,180.2 L375.4,179.7 L375.4,179.3 L375.5,178.8 L375.5,178.3 L375.5,177.9 L375.5,177.4 L375.5,176.9 L375.5,176.5 L375.6,176.0 L375.6,175.5 L375.6,175.1 L375.6,174.6 L375.6,174.1 L375.7,173.7 L375.7,173.2 L375.7,172.8 L375.7,172.3 L375.8,171.8 L375.8,171.4 L375.8,170.9 L375.8,170.4 L375.8,170.0 L375.9,169.5 L375.9,169.0 L375.9,168.6 L375.9,168.1 L375.9,167.6 L376.0,167.2 L376.0,166.7 L376.0,166.3 L376.0,165.8 L376.1,165.3 L376.1,164.9 L376.1,164.4 L376.1,163.9 L376.1,163.5 L376.2,163.0 L376.2,162.5 L376.2,162.1 L376.2,161.6 L376.3,161.1 L376.3,160.7 L376.3,160.2 L376.3,159.8 L376.4,159.3 L376.4,158.8 L376.4,158.4 L376.4,157.9 L376.5,157.4 L376.5,157.0 L376.5,156.5 L376.6,156.0 L376.6,155.6 L376.6,155.1 L376.7,154.7 L376.7,154.2 L376.8,153.7 L376.8,153.3 L376.8,152.8 L376.9,152.3 L376.9,151.9 L377.0,151.4 L377.0,151.0 L377.1,150.5 L377.1,150.0 L377.1,149.6 L377.2,149.1 L377.2,148.6 L377.3,148.2 L377.3,147.7 L377.4,147.3 L377.5,146.8 L377.5,146.3 L377.6,145.9 L377.6,145.4 L377.7,145.0 L377.8,144.5 L377.9,144.0 L377.9,143.6 L378.0,143.1 L378.1,142.7 L378.1,142.2 L378.2,141.7 L378.2,141.3 L378.3,140.8 L378.4,140.4 L378.4,139.9 L378.5,139.4 L378.5,139.0 L378.6,138.5 L378.6,138.0 L378.7,137.6 L378.7,137.1 L378.8,136.6 L378.8,136.2 L378.9,135.7 L379.0,135.3 L379.0,134.8 L379.1,134.3 L379.2,133.9 L379.2,133.4 L379.3,133.0 L379.4,132.5 L379.5,132.1 L379.6,131.6 L379.7,131.2 L379.9,130.7 L380.0,130.3 L380.1,129.9 L380.3,129.4 L380.4,129.0 L380.6,128.5 L380.7,128.1 L380.9,127.6 L381.1,127.2 L381.2,126.8 L381.4,126.3 L381.5,125.9 L381.7,125.4 L381.9,125.0 L382.0,124.6 L382.2,124.1 L382.3,123.7 L382.5,123.3 L382.6,122.8 L382.8,122.4 L382.9,121.9 L383.1,121.5 L383.3,121.1 L383.4,120.6 L383.6,120.2 L383.7,119.8 L383.9,119.3 L384.1,118.9 L384.3,118.5 L384.5,118.0 L384.6,117.6 L384.8,117.2 L385.0,116.8 L385.2,116.4 L385.4,115.9 L385.6,115.5 L385.8,115.1 L386.0,114.7 L386.2,114.3 L386.4,113.8 L386.7,113.4 L386.9,113.0 L387.1,112.6 L387.3,112.2 L387.5,111.8 L387.8,111.4 L388.0,111.0 L388.2,110.6 L388.4,110.2 L388.7,109.8 L388.9,109.3 L389.1,108.9 L389.3,108.5 L389.6,108.1 L389.8,107.7 L390.0,107.3 L390.3,106.9 L390.5,106.5 L390.8,106.1 L391.0,105.7 L391.2,105.3 L391.5,104.9 L391.7,104.5 L392.0,104.1 L392.3,103.8 L392.5,103.4 L392.8,103.0 L393.1,102.6 L393.3,102.3 L393.6,101.9 L393.9,101.5 L394.2,101.2 L394.5,100.8 L394.8,100.5 L395.1,100.1 L395.4,99.8 L395.7,99.4 L396.0,99.1 L396.3,98.7 L396.7,98.4 L397.0,98.1 L397.3,97.7 L397.7,97.4 L398.0,97.1 L398.3,96.8 L398.7,96.4 L399.0,96.1 L399.4,95.8 L399.7,95.5 L400.0,95.2 L400.4,94.9 L400.7,94.6 L401.1,94.3 L401.4,94.0 L401.8,93.7 L402.2,93.4 L402.5,93.1 L402.9,92.8 L403.3,92.5 L403.6,92.2 L404.0,92.0 L404.4,91.7 L404.8,91.4 L405.1,91.1 L405.5,90.9 L405.9,90.6" stroke="#0a0aff" stroke-width="1.6" stroke-dasharray="1.9,1.3,5.3,1.3"/></g><path d="M50.5,2.0V226.0M412.5,2.0V226.0" stroke="#7a7a7a" stroke-width="1" fill="none"/><path d="M51.0,2.5H412.0M51.0,225.5H412.0" stroke="#949494" stroke-width="1" fill="none"/><path d="M57.3,225.5v-3.2M57.3,2.5v3.2M80.2,225.5v-2M80.2,2.5v2M99.6,225.5v-2M99.6,2.5v2M116.4,225.5v-2M116.4,2.5v2M131.2,225.5v-2M131.2,2.5v2M144.4,225.5v-3.2M144.4,2.5v3.2M195.3,225.5v-2M195.3,2.5v2M231.5,225.5v-3.2M231.5,2.5v3.2M282.4,225.5v-2M282.4,2.5v2M318.6,225.5v-2M318.6,2.5v2M346.6,225.5v-3.2M346.6,2.5v3.2M369.5,225.5v-2M369.5,2.5v2M388.9,225.5v-2M388.9,2.5v2M405.7,225.5v-2M405.7,2.5v2M50.5,223.2h2M412.5,223.2h-2M50.5,201.2h2M412.5,201.2h-2M50.5,179.2h3.2M412.5,179.2h-3.2M50.5,157.2h2M412.5,157.2h-2M50.5,135.2h2M412.5,135.2h-2M50.5,113.2h3.2M412.5,113.2h-3.2M50.5,91.2h2M412.5,91.2h-2M50.5,69.2h2M412.5,69.2h-2M50.5,47.2h3.2M412.5,47.2h-3.2M50.5,25.2h2M412.5,25.2h-2M50.5,3.2h2M412.5,3.2h-2" stroke="#737373" stroke-width="0.6" fill="none"/><rect x="317.3" y="5.4" width="91.4" height="27.8" fill="#fff" stroke="#333" stroke-width="1.05"/><line x1="58" x2="72.8" y1="185.8" y2="185.8" stroke="#9c632a" stroke-width="1.3" stroke-dasharray="3.9,1.9"/><line x1="58" x2="72.7" y1="209.85" y2="209.85" stroke="#ff8c1f" stroke-width="1.4"/><line x1="138.4" x2="153.3" y1="185.8" y2="185.8" stroke="#0a0aff" stroke-width="1.5" stroke-dasharray="1.4,1,5.4,1.2,1.4,1,1.4,0.7,1.4,10"/><line x1="138.5" x2="153.2" y1="209.85" y2="209.85" stroke="#00ff00" stroke-width="2.0"/></svg><div class="t yl" style="top:40.9px">100</div><div class="t yl" style="top:106.9px">0.1</div><div class="t yl" style="top:172.9px">10<sup style="letter-spacing:0;margin-right:1.3px;font-size:9.8px">&#8722;4</sup></div><div class="t xl" style="left:37.5px;top:229.8px">5</div><div class="t xl" style="left:125.0px;top:229.8px">10</div><div class="t xl" style="left:211.4px;top:229.8px">20</div><div class="t xl" style="left:326.1px;top:229.8px">50</div><div class="t" style="left:197.60px;top:249px;font-size:15.5px;letter-spacing:0;transform-origin:0 0;transform:scaleX(1.06)"><i>m</i></div><div class="t" style="left:209.60px;top:257px;font-size:10.3px;letter-spacing:0.3px">DM</div><div class="t" style="left:230.90px;top:250px;font-size:14.2px;">(GeV)</div><div style="position:absolute;left:0;top:0;width:0;height:0;transform:translate(0px,132px) rotate(-90deg);transform-origin:0 0"><div class="t" style="left:2.60px;top:1.11px;font-size:13.6px;">&#937;</div><div class="t" style="left:16.50px;top:-1.32px;font-size:16.5px;transform-origin:0 0;transform:scaleX(1.05)"><i>h</i></div><div class="t" style="left:25.70px;top:-2.51px;font-size:11px;-webkit-text-stroke:0.15px #000">2</div></div><div class="t" style="left:81.30px;top:179px;font-size:11.8px;"><i>&#955;</i></div><div class="t" style="left:87.40px;top:184px;font-size:7.8px;-webkit-text-stroke:0.1px #000">L</div><div class="t" style="left:92.60px;top:182px;font-size:11.8px;transform-origin:0 0;transform:scaleX(0.8)">=</div><div class="t" style="left:98.30px;top:179px;font-size:11.8px;letter-spacing:0.3px">0.005</div><div class="t" style="left:78.80px;top:203px;font-size:11.8px;"><i>&#955;</i></div><div class="t" style="left:84.90px;top:208px;font-size:7.8px;-webkit-text-stroke:0.1px #000">L</div><div class="t" style="left:90.10px;top:206px;font-size:11.8px;transform-origin:0 0;transform:scaleX(0.8)">=</div><div class="t" style="left:95.80px;top:203px;font-size:11.8px;letter-spacing:0.3px">0.05</div><div class="t" style="left:159.30px;top:179px;font-size:11.8px;"><i>&#955;</i></div><div class="t" style="left:165.40px;top:184px;font-size:7.8px;-webkit-text-stroke:0.1px #000">L</div><div class="t" style="left:170.60px;top:182px;font-size:11.8px;transform-origin:0 0;transform:scaleX(0.8)">=</div><div class="t" style="left:176.30px;top:179px;font-size:11.8px;letter-spacing:0.3px">0.1</div><div class="t" style="left:159.40px;top:203px;font-size:11.8px;letter-spacing:0.2px">Planck 2015</div><div class="t" style="left:337.50px;top:14px;font-size:11.6px;">&#916;</div><div class="t" style="left:345.60px;top:14px;font-size:11.6px;">m</div><div class="t" style="left:355.00px;top:18px;font-size:7.8px;-webkit-text-stroke:0.05px #000;transform-origin:0 0;transform:scaleX(0.9)"><i>&#951;</i></div><div class="t" style="left:359.40px;top:16px;font-size:11.6px;transform-origin:0 0;transform:scaleX(0.8)">=</div><div class="t" style="left:365.00px;top:14px;font-size:11.6px;">50</div><div class="t" style="left:379.80px;top:14px;font-size:11.6px;transform-origin:0 0;transform:scaleX(0.93)">GeV</div></div></body></html>
